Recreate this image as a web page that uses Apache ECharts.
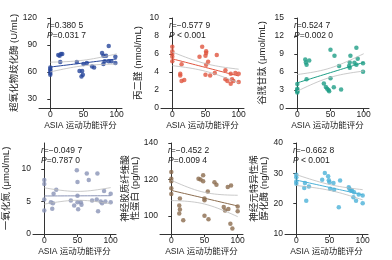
<!DOCTYPE html>
<html>
<head>
<meta charset="utf-8">
<script src="https://cdn.jsdelivr.net/npm/echarts@6/dist/echarts.min.js"></script>
<style>
html, body { margin: 0; padding: 0; background: #fff; }
#chart { width: 392px; height: 260px; }
</style>
</head>
<body>
<div id="chart"></div>
<script>
// values: [ASIA score, marker level]
const sodPts = [[0,57],[0,59],[0,61],[0,63],[0,65],[12,79],[14,78],[16,80],[18,80],[15,71],[40,71],[44,61],[48,61],[47,55],[49,57],[50,69],[55,70],[63,66],[66,65],[78,81],[80,78],[84,78],[88,89],[80,69],[82,72],[88,72],[92,72],[98,77],[98,70]];
const mdaPts = [[0,6.8],[0,6.3],[0,6.0],[0,5.7],[0,5.2],[12,3.8],[12,3.6],[14,4.85],[14,3.0],[18,3.1],[41,5.7],[45,6.8],[50,5.8],[51,6.1],[51,6.3],[51,4.8],[50,3.7],[54,5.15],[57,3.6],[64,3.9],[67,5.9],[80,4.2],[80,3.2],[83,3.0],[88,3.8],[90,3.2],[92,3.0],[88,2.7],[95,3.9],[100,3.8],[100,2.9]];
const gshPts = [[0,4.0],[0,3.2],[0,3.0],[0,2.8],[0,2.6],[12,8.1],[13,7.6],[14,7.2],[18,7.9],[14,4.8],[40,4.1],[43,3.5],[45,3.2],[47,3.0],[48,2.8],[50,4.95],[50,9.7],[56,8.7],[55,3.45],[63,7.0],[66,3.1],[80,8.7],[79,7.6],[78,7.0],[79,6.7],[89,10.05],[86,7.55],[91,8.2],[89,7.2],[99,7.45],[99,6.05]];
const noPts = [[0,8.3],[0,7.7],[0,5.3],[0,3.6],[10,4.9],[13,4.75],[12,3.9],[14,6.2],[18,6.8],[40,5.15],[45,4.4],[49,9.8],[50,8.0],[50,5.9],[50,4.9],[51,3.8],[55,4.9],[56,4.5],[64,9.3],[67,8.3],[72,5.15],[80,9.3],[79,5.3],[81,3.5],[85,5.0],[87,4.75],[90,6.6],[92,5.0],[100,6.2],[100,4.9]];
const gfapPts = [[0,124],[0,120.4],[0,119],[0,115.2],[0,112],[13,109.5],[12,105.7],[13,103.5],[12,101.3],[18,97.5],[41,120.4],[44,119.9],[48,122.3],[48,119],[50,109.5],[50,108.6],[50,100],[56,98.1],[55,113.3],[65,118.5],[68,117.1],[79,104.8],[81,102.9],[85,115.8],[90,116.6],[86,103.8],[89,95.6],[92,93],[100,105.1],[100,102.5]];
const ensPts = [[0,29.5],[0,28.7],[0,27.3],[0,26.6],[12,25.2],[13,26.8],[19,25.7],[15,21.0],[39,27.9],[43,30.1],[48,29],[49,27.7],[50,27.1],[51,24.9],[56,26.8],[57,24.6],[66,27.6],[64,18.8],[79,25.4],[80,24.9],[82,24.3],[84,24.3],[87,23.8],[86,22.1],[90,21.0],[94,23.0],[100,22.7],[100,20.1]];

const xName = 'ASIA 运动功能评分';
const xTicks = [0, 50, 100];
const yNames = ['超氧化物歧化酶 (U/mL)', '丙二醛 (nmol/mL)', '谷胱甘肽 (μmol/mL)', '一氧化氮 (μmol/mL)', '神经胶质纤维酸\n性蛋白 (pg/mL)', '神经元特异性烯\n醇化酶 (ng/mL)'];
const yMins = [20, 0, 0, 0, 90, 10];
const yMaxs = [120, 10, 15, 14, 140, 40];
const yTicks = [[30, 60, 90, 120], [0, 2, 4, 6, 8, 10], [0, 3, 6, 9, 12, 15], [0, 5, 10], [100, 120, 140], [10, 20, 30, 40]];
const rTexts = ['=0.380 5', '=−0.577 9', '=0.524 7', '=−0.049 7', '=−0.452 2', '=−0.662 8'];
const pTexts = ['=0.031 7', ' < 0.001', '=0.002 0', '=0.787 0', '=0.009 4', ' < 0.001'];

const allPts = [sodPts, mdaPts, gshPts, noPts, gfapPts, ensPts];
const colors = ['#27469b', '#e0553f', '#1e9e86', '#8a93b6', '#8b6c4e', '#4bb1d8'];

// layout of the six panels
const lefts = [39, 161, 286, 33, 160, 285];
const tops = [18, 18, 18, 143, 143, 143];
const heights = [90, 90, 90, 91, 91, 91];
const nameGaps = [19, 18, 19, 22, 18, 15];
const FONT = 'Liberation Sans, Noto Sans CJK SC, sans-serif';

// least squares fit with 95% confidence band of the mean
function fit (pts) {
    const n = pts.length;
    let mx = 0, my = 0;
    pts.forEach(p => { mx += p[0]; my += p[1]; });
    mx /= n; my /= n;
    let sxx = 0, sxy = 0;
    pts.forEach(p => { sxx += (p[0] - mx) ** 2; sxy += (p[0] - mx) * (p[1] - my); });
    const b = sxy / sxx, a = my - b * mx;
    let sse = 0;
    pts.forEach(p => { sse += (p[1] - a - b * p[0]) ** 2; });
    const s = Math.sqrt(sse / (n - 2));
    const t = 2.05;
    const mid = [], up = [], lo = [];
    for (let x = 0; x <= 100; x += 5) {
        const yh = a + b * x;
        const se = s * Math.sqrt(1 / n + (x - mx) ** 2 / sxx);
        mid.push([x, yh]);
        up.push([x, yh + t * se]);
        lo.push([x, yh - t * se]);
    }
    return { mid, up, lo };
}

const grid = [], xAxis = [], yAxis = [], series = [], title = [];
allPts.forEach((pts, i) => {
    grid.push({ left: lefts[i], top: tops[i], width: 83, height: heights[i] });
    xAxis.push({
        gridIndex: i, type: 'value', min: -17, max: 108,
        name: xName, nameLocation: 'middle', nameGap: 13,
        nameTextStyle: { fontSize: 8.5, color: '#222', fontFamily: FONT },
        axisLine: { lineStyle: { color: '#333', width: 1 } },
        axisTick: { length: 3, customValues: xTicks, lineStyle: { color: '#333' } },
        axisLabel: { customValues: xTicks, fontSize: 8.5, color: '#222', margin: 2, fontFamily: FONT },
        splitLine: { show: false },
    });
    yAxis.push({
        gridIndex: i, type: 'value', min: yMins[i], max: yMaxs[i],
        name: yNames[i], nameLocation: 'middle', nameGap: nameGaps[i],
        nameTextStyle: { fontSize: 9.5, color: '#222', fontFamily: FONT, lineHeight: 10 },
        axisLine: { show: true, lineStyle: { color: '#333', width: 1 } },
        axisTick: { show: true, length: 3, customValues: yTicks[i], lineStyle: { color: '#333' } },
        axisLabel: { customValues: yTicks[i], fontSize: 8.5, color: '#222', margin: 2, fontFamily: FONT },
        splitLine: { show: false },
    });
    const f = fit(pts);
    series.push(
        { type: 'line', xAxisIndex: i, yAxisIndex: i, data: f.up, symbol: 'none', silent: true, lineStyle: { color: '#bdbdbd', width: 0.8 } },
        { type: 'line', xAxisIndex: i, yAxisIndex: i, data: f.lo, symbol: 'none', silent: true, lineStyle: { color: '#bdbdbd', width: 0.8 } },
        { type: 'line', xAxisIndex: i, yAxisIndex: i, data: f.mid, symbol: 'none', silent: true, lineStyle: { color: colors[i], width: 1 } },
        { type: 'scatter', xAxisIndex: i, yAxisIndex: i, data: pts, symbolSize: 4.5, itemStyle: { color: colors[i] } }
    );
    title.push({
        left: lefts[i] + 3, top: tops[i] - 2,
        text: '{i|r}{n|' + rTexts[i] + '}\n{i|P}{n|' + pTexts[i] + '}',
        textStyle: {
            fontWeight: 'normal',
            rich: {
                i: { fontStyle: 'italic', fontWeight: 'normal', fontSize: 8.5, color: '#222', fontFamily: FONT, lineHeight: 9.5 },
                n: { fontWeight: 'normal', fontSize: 8.5, color: '#222', fontFamily: FONT, lineHeight: 9.5 },
            },
        },
    });
});

const myChart = echarts.init(document.getElementById('chart'));
myChart.setOption({ animation: false, title, grid, xAxis, yAxis, series });
</script>
</body>
</html>
